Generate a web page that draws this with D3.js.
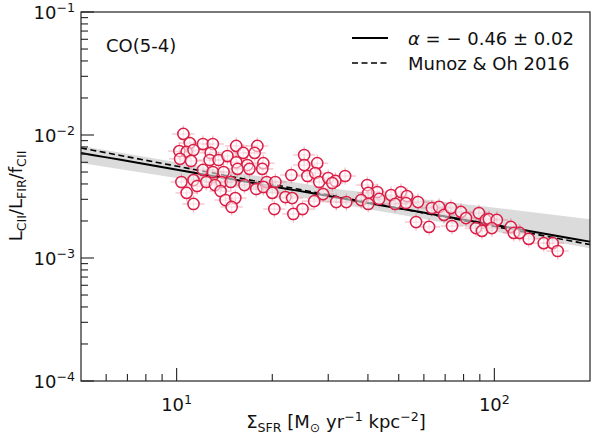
<!DOCTYPE html>
<html><head><meta charset="utf-8">
<script src="https://cdn.jsdelivr.net/npm/d3@7"></script>
<style>body{margin:0;background:#fff} text{font-family:"DejaVu Sans",sans-serif;fill:#111}</style>
</head><body>
<svg id="c" width="591" height="437"></svg>
<script>
// ---- data ----
const sigmaSFR = [10.5,11.0,10.2,10.75,11.3,10.25,11.1,10.35,11.3,11.6,10.75,11.3,
  12.1,13.0,12.8,12.7,13.55,14.45,12.1,13.0,14.05,12.4,13.85,14.8,13.2,13.75,14.25,15.3,14.9,
  15.4,16.2,17.95,17.6,15.4,16.7,18.75,15.55,16.95,18.6,16.35,19.2,17.8,18.75,
  20.45,22.96,20.0,22.0,23.1,20.3,23.3,24.9,
  25.2,25.2,27.7,25.8,27.3,28.1,30.0,31.6,33.9,27.1,28.9,30.9,31.8,34.2,
  39.8,42.8,40.1,38.1,43.4,40.1,47.3,50.8,53.1,52.7,48.7,57.5,56.7,
  62.3,63.6,67.0,69.4,73.0,73.6,78.5,81.4,89.4,87.5,94.0,91.4,96.1,101.8,98.2,
  112.7,115.1,120.2,128.3,143,152.7,158.2];
const ciiRatio = [1.02e-2,8.6e-3,7.4e-3,7.3e-3,7.55e-3,6.4e-3,6.15e-3,4.15e-3,4.3e-3,3.85e-3,3.38e-3,2.75e-3,
  8.45e-3,8.45e-3,7.15e-3,6.26e-3,6.26e-3,6.75e-3,5.2e-3,5.0e-3,5.0e-3,4.15e-3,4.15e-3,4.15e-3,3.92e-3,3.5e-3,2.96e-3,3.07e-3,2.6e-3,
  8.15e-3,7.15e-3,8.15e-3,7.15e-3,6.0e-3,5.7e-3,5.9e-3,5.3e-3,5.3e-3,5.3e-3,3.92e-3,4.15e-3,3.64e-3,3.78e-3,
  4.15e-3,4.73e-3,3.38e-3,3.13e-3,3.07e-3,2.5e-3,2.28e-3,2.5e-3,
  6.88e-3,5.7e-3,5.9e-3,4.64e-3,4.9e-3,4.15e-3,4.47e-3,4.23e-3,4.64e-3,2.9e-3,3.31e-3,4.07e-3,2.85e-3,2.85e-3,
  3.92e-3,3.44e-3,3.38e-3,2.96e-3,3.02e-3,2.75e-3,3.25e-3,3.44e-3,3.19e-3,2.8e-3,2.75e-3,2.85e-3,1.96e-3,
  1.79e-3,2.55e-3,2.6e-3,2.24e-3,2.55e-3,1.82e-3,2.37e-3,2.11e-3,2.32e-3,1.75e-3,2.04e-3,1.66e-3,2.07e-3,2.04e-3,1.75e-3,
  1.79e-3,1.6e-3,1.6e-3,1.43e-3,1.32e-3,1.32e-3,1.14e-3];
const xErrDex = 0.035;   // log error on Sigma_SFR
const yErrDex = 0.07;    // log error on ratio

// fit: ratio = A * SFR^alpha
const fitAlpha = -0.45, fitA = Math.pow(10, -1.8314);
// Munoz & Oh 2016
const moAlpha = -0.49, moA = Math.pow(10, -1.7632);
const lineX = [5, 200];

// confidence band
const bandX  = [5, 12, 30, 80, 200];
const bandHi = [8.14e-3, 5.55e-3, 3.71e-3, 2.75e-3, 2.07e-3];
const bandLo = [5.92e-3, 4.15e-3, 2.85e-3, 1.82e-3, 1.2e-3];

const xTickMajor = [10, 100];
const xTickLabels = [["10","1"],["10","2"]];
const yTickMajor = [1e-4, 1e-3, 1e-2, 1e-1];
const yTickLabels = [["10","−4"],["10","−3"],["10","−2"],["10","−1"]];

// ---- chart ----
const L = 81, T = 12, R = 590, B = 381;
const svg = d3.select("#c");
const x = d3.scaleLog().domain([5, 200]).range([L, R]);
const y = d3.scaleLog().domain([1e-4, 1e-1]).range([B, T]);

const red = "#dc1f47";

// band
svg.append("path")
  .datum(bandX.map((d,i)=>[d, bandLo[i], bandHi[i]]))
  .attr("d", d3.area().x(d=>x(d[0])).y0(d=>y(d[1])).y1(d=>y(d[2])))
  .attr("fill", "#cccccc").attr("opacity", 0.7);

// error bars
const pts = sigmaSFR.map((s,i)=>({s, r: ciiRatio[i]}));
const eb = svg.append("g").attr("stroke", red).attr("stroke-opacity", 0.28).attr("stroke-width", 1.3);
pts.forEach(p=>{
  eb.append("line").attr("x1", x(p.s*Math.pow(10,-xErrDex))).attr("x2", x(p.s*Math.pow(10,xErrDex)))
    .attr("y1", y(p.r)).attr("y2", y(p.r));
  eb.append("line").attr("x1", x(p.s)).attr("x2", x(p.s))
    .attr("y1", y(p.r*Math.pow(10,-yErrDex))).attr("y2", y(p.r*Math.pow(10,yErrDex)));
});

// lines
const ln = d3.line().x(d=>x(d[0])).y(d=>y(d[1]));
const fitPts = d3.range(0, 41).map(i=>lineX[0]*Math.pow(lineX[1]/lineX[0], i/40));
svg.append("path").datum(fitPts.map(v=>[v, fitA*Math.pow(v, fitAlpha)])).attr("d", ln)
  .attr("fill","none").attr("stroke","#000").attr("stroke-width",2);
svg.append("path").datum(fitPts.map(v=>[v, moA*Math.pow(v, moAlpha)])).attr("d", ln)
  .attr("fill","none").attr("stroke","#000").attr("stroke-width",1.6).attr("stroke-dasharray","6,3.5");

// points
svg.append("g").selectAll("circle").data(pts).join("circle")
  .attr("cx", d=>x(d.s)).attr("cy", d=>y(d.r)).attr("r", 5.6)
  .attr("fill", "#fff").attr("fill-opacity", 0.55)
  .attr("stroke", red).attr("stroke-width", 1.5);

// frame
svg.append("rect").attr("x", L).attr("y", T).attr("width", R-L).attr("height", B-T)
  .attr("fill","none").attr("stroke","#222").attr("stroke-width",1.2);

// ticks
const tk = svg.append("g").attr("stroke","#222").attr("stroke-width",1.1);
x.ticks().forEach(v=>{
  if (v <= 5 || v >= 200) return;
  const major = xTickMajor.includes(v);
  tk.append("line").attr("x1",x(v)).attr("x2",x(v)).attr("y1",B).attr("y2",B-(major?13:7));
});
y.ticks().forEach(v=>{
  const major = yTickMajor.some(m=>Math.abs(m-v)/m<1e-6);
  tk.append("line").attr("x1",L).attr("x2",L+(major?13:7)).attr("y1",y(v)).attr("y2",y(v));
});

// tick labels
xTickMajor.forEach((v,i)=>{
  const t = svg.append("text").attr("x", x(v)).attr("y", 411).attr("text-anchor","middle").attr("font-size",18);
  t.append("tspan").text(xTickLabels[i][0]);
  t.append("tspan").attr("dy",-7).attr("font-size",12.6).text(xTickLabels[i][1]);
});
yTickMajor.forEach((v,i)=>{
  const t = svg.append("text").attr("x", 75).attr("y", y(v)+6.5).attr("text-anchor","end").attr("font-size",18);
  t.append("tspan").text(yTickLabels[i][0]);
  t.append("tspan").attr("dy",-7).attr("font-size",12.6).text(yTickLabels[i][1]);
});

// axis labels
const xl = svg.append("text").attr("x", 336).attr("y", 428).attr("text-anchor","middle").attr("font-size",18);
xl.append("tspan").text("Σ");
xl.append("tspan").attr("dy",4).attr("font-size",12.6).text("SFR");
xl.append("tspan").attr("dy",-4).text(" [M");
xl.append("tspan").attr("dy",4).attr("font-size",12.6).text("⊙");
xl.append("tspan").attr("dy",-4).text(" yr");
xl.append("tspan").attr("dy",-7).attr("font-size",12.6).text("−1");
xl.append("tspan").attr("dy",7).text(" kpc");
xl.append("tspan").attr("dy",-7).attr("font-size",12.6).text("−2");
xl.append("tspan").attr("dy",7).text("]");

const yl = svg.append("text").attr("transform","translate(22,196) rotate(-90)").attr("text-anchor","middle").attr("font-size",18);
yl.append("tspan").text("L");
yl.append("tspan").attr("dy",4).attr("font-size",12.6).text("CII");
yl.append("tspan").attr("dy",-4).text("/L");
yl.append("tspan").attr("dy",4).attr("font-size",12.6).text("FIR");
yl.append("tspan").attr("dy",-4).text("/f");
yl.append("tspan").attr("dy",4).attr("font-size",12.6).text("CII");

// annotation
svg.append("text").attr("x",106).attr("y",52).attr("font-size",18).text("CO(5-4)");

// legend
svg.append("line").attr("x1",352).attr("x2",388).attr("y1",38).attr("y2",38).attr("stroke","#000").attr("stroke-width",2);
svg.append("line").attr("x1",352).attr("x2",388).attr("y1",63).attr("y2",63).attr("stroke","#000").attr("stroke-width",1.6).attr("stroke-dasharray","6,3.5");
const lg1 = svg.append("text").attr("x",408).attr("y",45).attr("font-size",18);
lg1.append("tspan").attr("font-style","italic").text("α");
lg1.append("tspan").text(" = − 0.46 ± 0.02");
svg.append("text").attr("x",408).attr("y",70).attr("font-size",18).text("Munoz & Oh 2016");
</script>
</body></html>
